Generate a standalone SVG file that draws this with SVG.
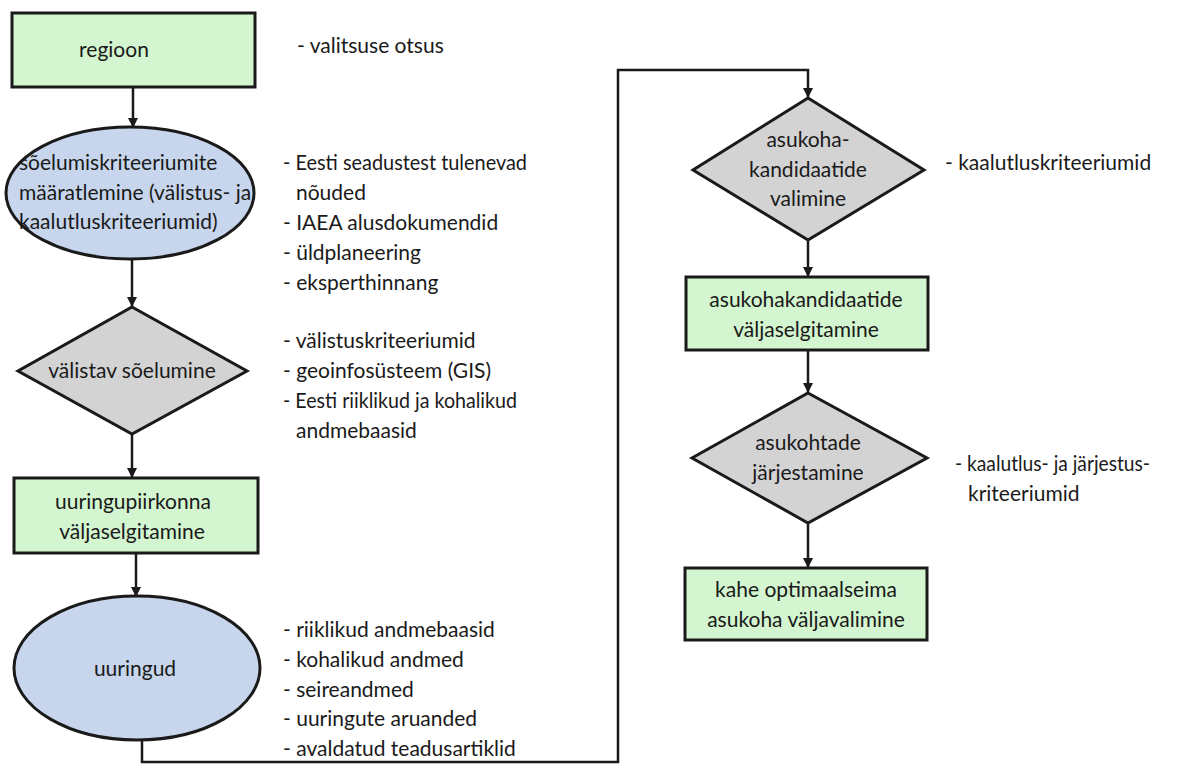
<svg xmlns="http://www.w3.org/2000/svg" width="1179" height="765" viewBox="0 0 1179 765">
<style>
.box{fill:#d3f5cf;stroke:#1a1a1a;stroke-width:3}
.ell{fill:#c7d6ec;stroke:#1a1a1a;stroke-width:3}
.dia{fill:#d3d3d3;stroke:#1a1a1a;stroke-width:3;stroke-linejoin:miter}
.con{fill:none;stroke:#1a1a1a;stroke-width:2.5}
text{font-family:Lato,"Open Sans",sans-serif;font-size:21px;fill:#1a1a1a}
.c{text-anchor:middle}
</style>
<defs>
<marker id="ah" viewBox="0 0 10 10" refX="9" refY="5" markerWidth="4" markerHeight="4" orient="auto">
<path d="M0,0 L10,5 L0,10 z" fill="#1a1a1a"/>
</marker>
</defs>
<g id="connectors">
<line class="con" x1="133" y1="88" x2="133" y2="127" marker-end="url(#ah)"/>
<line class="con" x1="132" y1="259" x2="132" y2="306" marker-end="url(#ah)"/>
<line class="con" x1="132" y1="435" x2="132" y2="477" marker-end="url(#ah)"/>
<line class="con" x1="136" y1="554" x2="136" y2="596" marker-end="url(#ah)"/>
<polyline class="con" points="142,740 142,762 618,762 618,70 808,70 808,97" marker-end="url(#ah)"/>
<line class="con" x1="808" y1="241" x2="808" y2="276" marker-end="url(#ah)"/>
<line class="con" x1="808" y1="351" x2="808" y2="392" marker-end="url(#ah)"/>
<line class="con" x1="808" y1="524" x2="808" y2="567" marker-end="url(#ah)"/>
</g>
<g id="n-regioon">
<rect class="box" x="12" y="13" width="243" height="74"/>
<text class="c" x="114" y="57">regioon</text>
</g>
<g id="t-valitsuse">
<text x="297" y="53">- valitsuse otsus</text>
</g>
<g id="n-soelumiskriteeriumid">
<ellipse class="ell" cx="130" cy="193" rx="124" ry="66"/>
<text x="19" y="170">sõelumiskriteeriumite</text>
<text x="19" y="200">määratlemine (välistus- ja</text>
<text x="19" y="229">kaalutluskriteeriumid)</text>
</g>
<g id="t-soelumis">
<text x="283" y="170" textLength="244" lengthAdjust="spacingAndGlyphs">- Eesti seadustest tulenevad</text>
<text x="296" y="200">nõuded</text>
<text x="283" y="230">- IAEA alusdokumendid</text>
<text x="283" y="260">- üldplaneering</text>
<text x="283" y="290">- eksperthinnang</text>
</g>
<g id="n-valistav">
<polygon class="dia" points="132,307 247,371 132,434 18,371"/>
<text class="c" x="132" y="378">välistav sõelumine</text>
</g>
<g id="t-valistav">
<text x="283" y="348">- välistuskriteeriumid</text>
<text x="283" y="378">- geoinfosüsteem (GIS)</text>
<text x="283" y="408" textLength="234" lengthAdjust="spacingAndGlyphs">- Eesti riiklikud ja kohalikud</text>
<text x="296" y="438">andmebaasid</text>
</g>
<g id="n-uuringupiirkonna">
<rect class="box" x="14" y="478" width="244" height="75"/>
<text class="c" x="133" y="509">uuringupiirkonna</text>
<text class="c" x="132" y="539">väljaselgitamine</text>
</g>
<g id="n-uuringud">
<ellipse class="ell" cx="137" cy="668" rx="123" ry="72"/>
<text class="c" x="135" y="676">uuringud</text>
</g>
<g id="t-uuringud">
<text x="283" y="637">- riiklikud andmebaasid</text>
<text x="283" y="667">- kohalikud andmed</text>
<text x="283" y="697">- seireandmed</text>
<text x="283" y="726">- uuringute aruanded</text>
<text x="283" y="756">- avaldatud teadusartiklid</text>
</g>
<g id="n-asukoha-valimine">
<polygon class="dia" points="808,98 924,170 808,240 693,170"/>
<text class="c" x="808" y="147">asukoha-</text>
<text class="c" x="808" y="177">kandidaatide</text>
<text class="c" x="808" y="206">valimine</text>
</g>
<g id="t-kaalutlus">
<text x="945" y="170">- kaalutluskriteeriumid</text>
</g>
<g id="n-asukohakandidaatide">
<rect class="box" x="686" y="277" width="242" height="73"/>
<text class="c" x="806" y="307">asukohakandidaatide</text>
<text class="c" x="806" y="337">väljaselgitamine</text>
</g>
<g id="n-jarjestamine">
<polygon class="dia" points="808,393 927,458 808,523 692,458"/>
<text class="c" x="808" y="450">asukohtade</text>
<text class="c" x="808" y="480">järjestamine</text>
</g>
<g id="t-jarjestus">
<text x="955" y="471" textLength="195" lengthAdjust="spacingAndGlyphs">- kaalutlus- ja järjestus-</text>
<text x="968" y="501">kriteeriumid</text>
</g>
<g id="n-kahe">
<rect class="box" x="685" y="568" width="242" height="72"/>
<text class="c" x="806" y="597">kahe optimaalseima</text>
<text class="c" x="806" y="627">asukoha väljavalimine</text>
</g>
</svg>
